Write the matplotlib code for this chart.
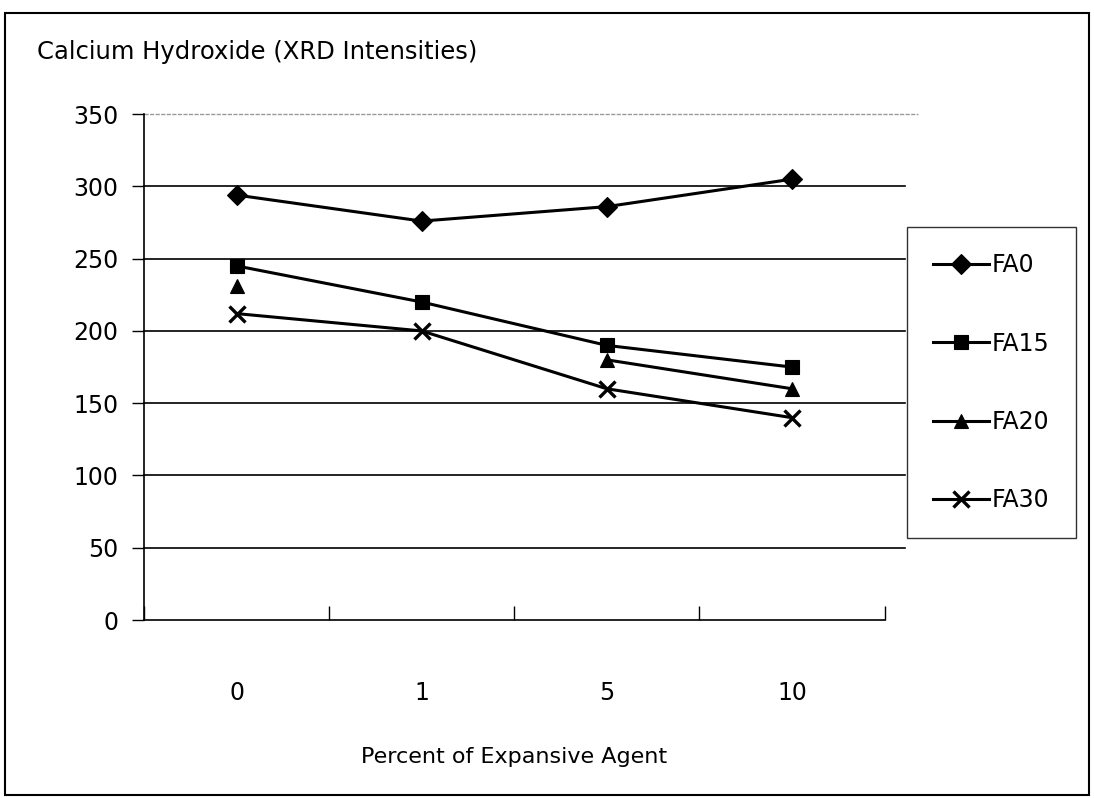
import numpy as np
import matplotlib
matplotlib.use("Agg")
import matplotlib.pyplot as plt
from matplotlib.patches import Rectangle
from matplotlib.transforms import blended_transform_factory

plt.rcParams['font.family'] = ['DejaVu Sans']

categories = ["0", "1", "5", "10"]
fa0 = [294, 276, 286, 305]
fa15 = [245, 220, 190, 175]
fa20 = [231, np.nan, 180, 160]
fa30 = [212, 200, 160, 140]
series = [("FA0", fa0, "D"), ("FA15", fa15, "s"), ("FA20", fa20, "^"), ("FA30", fa30, "x")]
yticks = [0, 50, 100, 150, 200, 250, 300, 350]

fig = plt.figure(figsize=(10.94, 7.98), dpi=100)
ax = fig.add_axes([0.1316, 0.223, 0.677, 0.634])

x = np.arange(len(categories))
for name, vals, mk in series:
    v = np.array(vals, dtype=float)
    ax.plot(x, v, color="black", lw=2.2, marker=mk,
            markersize=10.5 if mk != "x" else 11,
            markeredgewidth=2.4 if mk == "x" else 0.8,
            markerfacecolor="black", markeredgecolor="black", label=name,
            clip_on=False, zorder=3)

ax.set_xlim(-0.5, len(categories) - 0.5)
ax.set_ylim(0, 350)

# horizontal gridlines running slightly past the category axis
tr = blended_transform_factory(ax.transAxes, ax.transData)
for yv in yticks[1:-1]:
    ax.plot([0, 1.027], [yv, yv], transform=tr, color="black", lw=1.2,
            clip_on=False, zorder=1)
ax.plot([0, 1.045], [350, 350], transform=tr, color="#9a9a9a", lw=1.0,
        ls=(0, (3, 1)), clip_on=False, zorder=1)

for s in ["top", "right"]:
    ax.spines[s].set_visible(False)
ax.spines["left"].set_linewidth(1.2)
ax.spines["bottom"].set_linewidth(1.2)

ax.set_yticks(yticks)
ax.set_yticklabels([str(t) for t in yticks], fontsize=17)
ax.tick_params(axis="y", direction="out", length=8.5, width=1.0, pad=10)

ax.set_xticks(x)
ax.set_xticklabels(categories, fontsize=17)
ax.tick_params(axis="x", which="major", length=0, pad=44)
ax.set_xticks(np.arange(-0.5, len(categories)), minor=True)
ax.tick_params(axis="x", which="minor", direction="in", length=10, width=1.0)

ax.set_xlabel("Percent of Expansive Agent", fontsize=16, labelpad=30)

fig.text(0.034, 0.935, "Calcium Hydroxide (XRD Intensities)", fontsize=17.5,
         ha="left", va="center")

leg = ax.legend(loc="center left", bbox_to_anchor=(1.03, 0.469), frameon=True,
                fancybox=False, edgecolor="black", fontsize=17, handlelength=2.4,
                labelspacing=2.3, borderpad=1.1, handletextpad=0.1,
                borderaxespad=0)
leg.get_frame().set_linewidth(1.0)

# outer frame of the figure
fig.patches.append(Rectangle((0.005, 0.004), 0.99, 0.98, transform=fig.transFigure,
                             fill=False, edgecolor="black", lw=1.5))

fig.savefig("out.png", dpi=100)
